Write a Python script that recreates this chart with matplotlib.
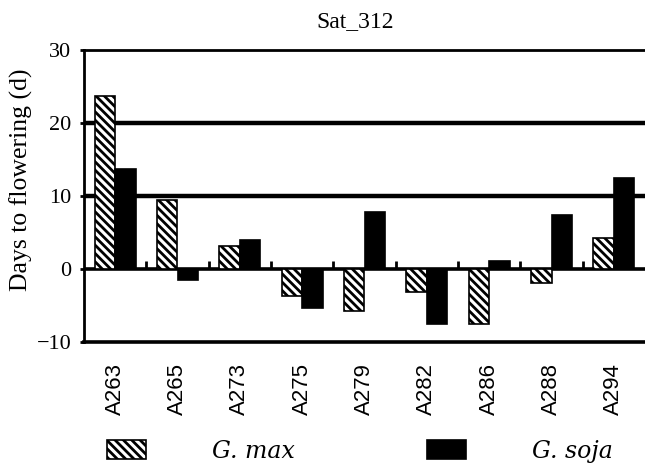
import matplotlib
matplotlib.use("Agg")
import matplotlib.pyplot as plt
import numpy as np

categories = ["A263", "A265", "A273", "A275", "A279", "A282", "A286", "A288", "A294"]
g_max = [23.7, 9.5, 3.1, -3.7, -5.7, -3.2, -7.5, -1.9, 4.3]
g_soja = [13.7, -1.5, 4.0, -5.3, 7.8, -7.5, 1.1, 7.4, 12.5]
y_ticks = [-10, 0, 10, 20, 30]
title = "Sat_312"
ylabel = "Days to flowering (d)"
series_names = ["G. max", "G. soja"]

BS = chr(92)
plt.rcParams['hatch.linewidth'] = 2.0

fig = plt.figure(figsize=(6.45, 4.65), dpi=100)
ax = fig.add_axes([84/645, 1-342/465, (645-84)/645, 292/465])

x = np.arange(len(categories))
w = 0.33
b1 = ax.bar(x - w/2, g_max, w, facecolor='white', edgecolor='black', hatch=BS*4,
            linewidth=1.2, zorder=3, label=series_names[0])
b2 = ax.bar(x + w/2, g_soja, w, facecolor='black', edgecolor='black',
            linewidth=1.2, zorder=3, label=series_names[1])

ax.set_xlim(-0.5, len(categories) - 0.5)
ax.set_ylim(y_ticks[0], y_ticks[-1])
ax.set_yticks(y_ticks)
ax.set_yticklabels([("\u2212" + str(-v)) if v < 0 else str(v) for v in y_ticks],
                   family='Liberation Serif', fontsize=16)
ax.set_xticks(x)
ax.set_xticklabels(categories, rotation=90, family='Liberation Sans', fontsize=16,
                   va='top', ha='center')
ax.tick_params(axis='x', length=0, pad=15)
ax.tick_params(axis='y', length=3, width=2, pad=6, direction='out')

# gridlines and zero line
for v in y_ticks[1:-1]:
    if v == 0:
        ax.axhline(v, color='black', linewidth=2.6, zorder=2)
    else:
        ax.axhline(v, color='black', linewidth=3.2, zorder=2)

# category separator ticks on the zero line
ax.vlines(x[:-1] + 0.5, 0, 1.1, color='black', linewidth=2, zorder=2)

ax.spines['right'].set_visible(False)
ax.spines['top'].set_linewidth(2.0)
ax.spines['bottom'].set_linewidth(2.6)
ax.spines['left'].set_linewidth(2.0)

fig.text(355/645, 1-22/465, title, family='Liberation Serif', fontsize=17,
         ha='center', va='center')
fig.text(21/645, 1-180/465, ylabel, family='Liberation Serif', fontsize=18.5,
         rotation=90, ha='center', va='center')

leg = fig.legend(handles=[b1, b2], labels=series_names, loc='center left',
                 bbox_to_anchor=(107/645, 1-451/465), ncol=2, frameon=False,
                 borderaxespad=0, borderpad=0,
                 prop={'family': 'DejaVu Serif', 'style': 'italic', 'size': 17},
                 handlelength=1.65, handleheight=0.9, handletextpad=2.8,
                 columnspacing=5.6)

fig.savefig("out.png", dpi=100)
